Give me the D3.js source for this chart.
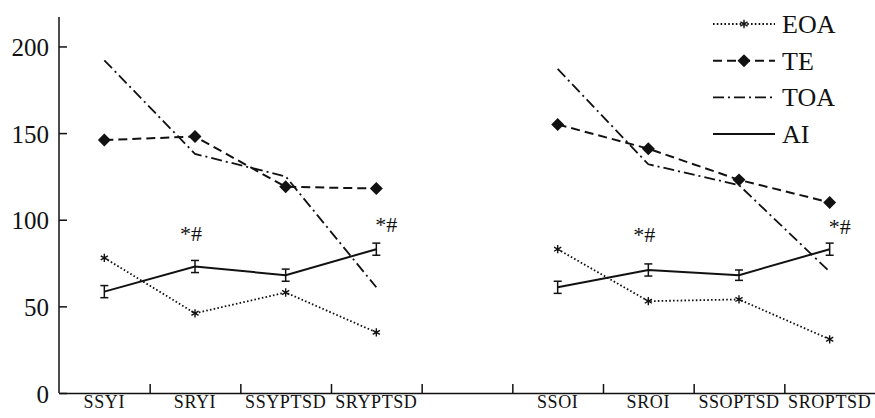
<!DOCTYPE html>
<html>
<head>
<meta charset="utf-8">
<script src="https://cdn.jsdelivr.net/npm/d3@7"></script>
</head>
<body style="margin:0; background:#fff">
<div id="wrapper"></div>
<script>
// two groups of categories, one empty slot between them
const groupYoung = ["SSYI", "SRYI", "SSYPTSD", "SRYPTSD"];
const groupOld = ["SSOI", "SROI", "SSOPTSD", "SROPTSD"];
const categories = groupYoung.concat(groupOld);

// series values, same order as categories
const eoaValues = [78, 46, 58, 35, 83, 53, 54, 31];
const teValues = [146, 148, 119, 118, 155, 141, 123, 110];
const toaValues = [192, 138, 125, 61, 187, 132, 120, 70];
const aiValues = [58.5, 73, 68, 83, 61, 71, 68, 83];
const aiErrors = [3.5, 3.5, 3.5, 3.5, 3.5, 3.5, 3, 3.5];

// significance marks
const markCategories = ["SRYI", "SRYPTSD", "SROI", "SROPTSD"];
const markValues = [88, 93, 87, 92];
const markText = "*#";

const yTicks = [0, 50, 100, 150, 200];
const legendNames = ["EOA", "TE", "TOA", "AI"];

const serif = "Liberation Serif";

function drawChart() {
    let dimensions = {
        width: 875,
        height: 418,
        margin: { top: 17, right: 0, bottom: 25, left: 59 },
    };
    dimensions.boundedWidth = dimensions.width - dimensions.margin.left - dimensions.margin.right;
    dimensions.boundedHeight = dimensions.height - dimensions.margin.top - dimensions.margin.bottom;

    const wrapper = d3.select("#wrapper")
        .append("svg")
        .attr("width", dimensions.width)
        .attr("height", dimensions.height)
        .attr("font-family", serif)
        .style("display", "block");

    const bounds = wrapper.append("g")
        .attr("transform", `translate(${dimensions.margin.left}, ${dimensions.margin.top})`);

    // slot index for each category (gap slot after the first group)
    const slotOf = c => {
        const i = groupYoung.indexOf(c);
        return i >= 0 ? i : groupYoung.length + 1 + groupOld.indexOf(c);
    };
    const slotCount = groupYoung.length + 1 + groupOld.length;

    const xScale = d3.scaleLinear()
        .domain([0, slotCount])
        .range([0, dimensions.boundedWidth]);
    const xCat = c => xScale(slotOf(c) + 0.5);

    const yScale = d3.scaleLinear()
        .domain([0, 217])
        .range([dimensions.boundedHeight, 0]);

    // axes
    bounds.append("g")
        .attr("transform", `translate(0, ${dimensions.boundedHeight})`)
        .call(d3.axisBottom(xScale)
            .tickValues(d3.range(1, slotCount))
            .tickSize(-9)
            .tickSizeOuter(0)
            .tickFormat(""));

    const xLabels = bounds.append("g")
        .attr("transform", `translate(0, ${dimensions.boundedHeight})`);
    xLabels.selectAll("text")
        .data(categories)
        .join("text")
        .attr("x", d => xCat(d))
        .attr("y", 15)
        .attr("text-anchor", "middle")
        .attr("fill", "#111")
        .attr("font-family", serif)
        .attr("font-size", 18)
        .attr("letter-spacing", 0.6)
        .text(d => d);

    const yAxis = bounds.append("g")
        .call(d3.axisLeft(yScale)
            .tickValues(yTicks)
            .tickSize(-8)
            .tickPadding(10)
            .tickSizeOuter(0));
    yAxis.attr("font-family", serif).attr("font-size", 25);
    yAxis.selectAll(".tick text")
        .attr("fill", "#111")
        .attr("font-family", serif)
        .attr("font-size", 25)
        .attr("dy", "0.36em");

    wrapper.selectAll(".domain, .tick line")
        .attr("stroke", "#111")
        .attr("stroke-width", 1.5);
    yAxis.select(".domain").attr("d", `M0,0V${dimensions.boundedHeight}`);

    // series drawn per group so lines break at the gap
    const seriesStyle = {
        EOA: { values: eoaValues, dash: "1.6,2.2", width: 1.8, marker: "asterisk" },
        TE: { values: teValues, dash: "9,5", width: 2, marker: "diamond" },
        TOA: { values: toaValues, dash: "11,4,2,4", width: 1.8, marker: null },
        AI: { values: aiValues, dash: null, width: 2, marker: null },
    };

    const lineGenerator = d3.line()
        .x(d => xCat(d.c))
        .y(d => yScale(d.v));

    const asterisk = d3.symbol().type(d3.symbolAsterisk).size(48);
    const diamond = d3.symbol().type(d3.symbolSquare).size(84);

    const drawMarker = (g, type, x, y) => {
        if (type === "asterisk") {
            g.append("path")
                .attr("d", asterisk())
                .attr("transform", `translate(${x}, ${y})`)
                .attr("fill", "none")
                .attr("stroke", "#111")
                .attr("stroke-width", 1.4);
        } else if (type === "diamond") {
            g.append("path")
                .attr("d", diamond())
                .attr("transform", `translate(${x}, ${y}) rotate(45)`)
                .attr("fill", "#111");
        }
    };

    const order = ["TOA", "TE", "EOA", "AI"];
    order.forEach(name => {
        const s = seriesStyle[name];
        const pts = categories.map((c, i) => ({ c: c, v: s.values[i] }));
        [groupYoung, groupOld].forEach(group => {
            const part = pts.filter(p => group.includes(p.c));
            bounds.append("path")
                .datum(part)
                .attr("d", lineGenerator)
                .attr("fill", "none")
                .attr("stroke", "#111")
                .attr("stroke-width", s.width)
                .attr("stroke-dasharray", s.dash);
        });
        pts.forEach(p => drawMarker(bounds, s.marker, xCat(p.c), yScale(p.v)));
    });

    // error bars on AI
    const errG = bounds.append("g")
        .attr("stroke", "#111")
        .attr("stroke-width", 1.5);
    categories.forEach((c, i) => {
        const x = xCat(c);
        const y0 = yScale(aiValues[i] - aiErrors[i]);
        const y1 = yScale(aiValues[i] + aiErrors[i]);
        errG.append("line").attr("x1", x).attr("x2", x).attr("y1", y0).attr("y2", y1);
        errG.append("line").attr("x1", x - 4).attr("x2", x + 4).attr("y1", y0).attr("y2", y0);
        errG.append("line").attr("x1", x - 4).attr("x2", x + 4).attr("y1", y1).attr("y2", y1);
    });

    // significance marks
    bounds.selectAll(".mark")
        .data(markCategories)
        .join("text")
        .attr("class", "mark")
        .attr("x", (d, i) => xCat(d) + (i % 2 === 0 ? -4 : 10))
        .attr("y", (d, i) => yScale(markValues[i]))
        .attr("text-anchor", "middle")
        .attr("fill", "#111")
        .attr("font-family", serif)
        .attr("font-size", 22)
        .text(markText);

    // legend
    const legend = wrapper.append("g")
        .attr("transform", "translate(713, 24)");
    legendNames.forEach((name, i) => {
        const s = seriesStyle[name];
        const row = legend.append("g")
            .attr("transform", `translate(0, ${i * 36.7})`);
        row.append("line")
            .attr("x1", 0).attr("x2", 62)
            .attr("y1", 0).attr("y2", 0)
            .attr("stroke", "#111")
            .attr("stroke-width", s.width)
            .attr("stroke-dasharray", s.dash);
        drawMarker(row, s.marker, 31, 0);
        row.append("text")
            .attr("x", 69)
            .attr("y", 9)
            .attr("fill", "#111")
            .attr("font-family", serif)
            .attr("font-size", 26)
            .text(name);
    });
}

drawChart();
</script>
</body>
</html>
